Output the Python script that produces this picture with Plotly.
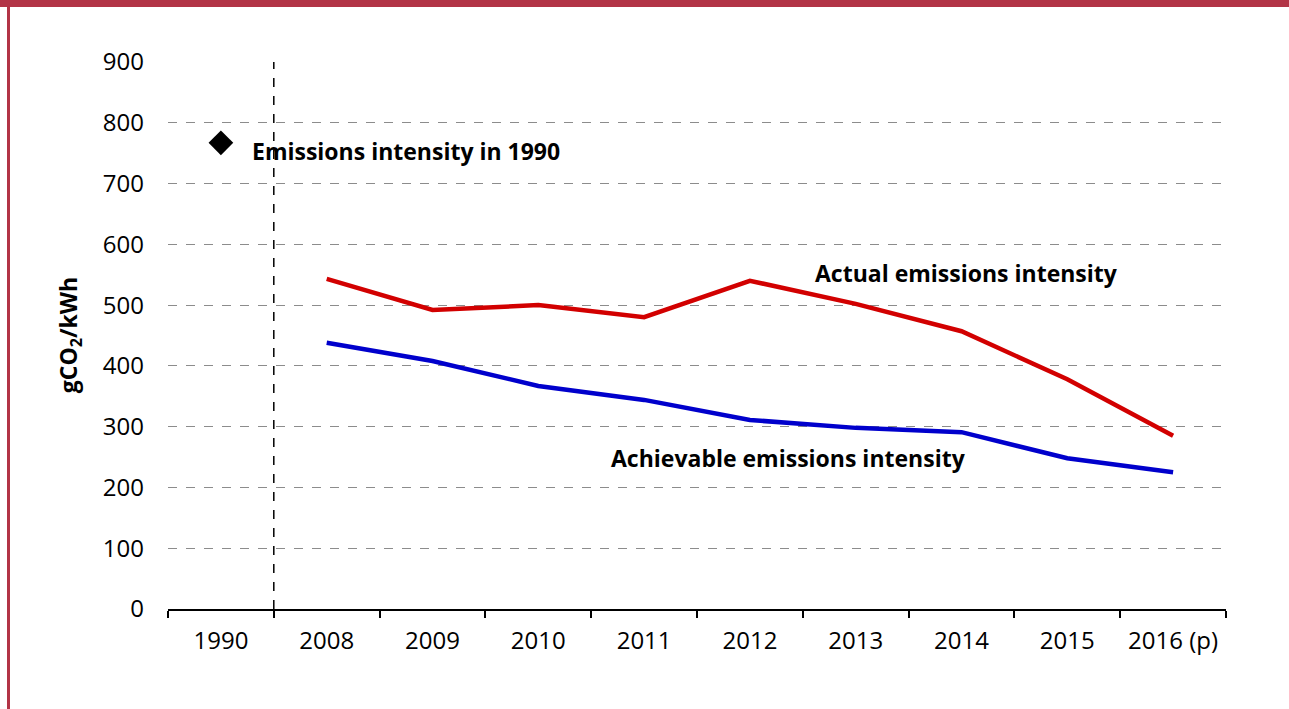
import plotly.graph_objects as go

# Categories and series values (gCO2/kWh)
years = ["1990", "2008", "2009", "2010", "2011", "2012", "2013", "2014", "2015", "2016 (p)"]
series_years = years[1:]
actual = [543, 492, 500, 480, 540, 502, 457, 378, 285]
achievable = [438, 408, 367, 344, 311, 298, 291, 248, 225]
baseline_1990 = [767]
y_ticks = [0, 100, 200, 300, 400, 500, 600, 700, 800, 900]

W, H = 1289, 709
L, R, T, B = 168, 63, 61, 100
Y_TOP = 901.6
PW = W - L - R
PH = H - T - B
FONT = "Open Sans, Noto Sans, sans-serif"
BORDER = "#B23446"


def px_x(px):
    return (px - L) / PW


def px_y(py):
    return (H - B - py) / PH


def cat(label):
    # category axes take numeric positions for annotations and shapes
    return years.index(label)


fig = go.Figure()

fig.add_trace(go.Scatter(
    x=series_years, y=actual, mode="lines",
    line=dict(color="#D20000", width=4.5), showlegend=False))
fig.add_trace(go.Scatter(
    x=series_years, y=achievable, mode="lines",
    line=dict(color="#0000CC", width=4.5), showlegend=False))
fig.add_trace(go.Scatter(
    x=years[:1], y=baseline_1990, mode="markers",
    marker=dict(symbol="diamond", size=19, color="black"), showlegend=False))

# Dashed separator between 1990 and the annual series
fig.add_shape(type="line", xref="x", yref="y", x0=0.5, x1=0.5, y0=0, y1=900,
              line=dict(color="black", width=1.5, dash="dash"))

# Frame: top band and left edge
fig.add_shape(type="rect", xref="paper", yref="paper",
              x0=px_x(0), x1=px_x(W), y0=px_y(7), y1=px_y(0),
              fillcolor=BORDER, line=dict(width=0), layer="above")
fig.add_shape(type="rect", xref="paper", yref="paper",
              x0=px_x(7), x1=px_x(10), y0=px_y(H), y1=px_y(0),
              fillcolor=BORDER, line=dict(width=0), layer="above")

fig.add_annotation(x=cat("1990"), y=baseline_1990[0], xref="x", yref="y",
                   text="<b>Emissions intensity in 1990</b>", showarrow=False,
                   xanchor="left", xshift=29, yshift=-8,
                   font=dict(family=FONT, size=23, color="black"))
fig.add_annotation(x=cat("2013"), y=553, xref="x", yref="y",
                   text="<b>Actual emissions intensity</b>", showarrow=False,
                   xanchor="center", xshift=111,
                   font=dict(family=FONT, size=23, color="black"))
fig.add_annotation(x=cat("2012"), y=249, xref="x", yref="y",
                   text="<b>Achievable emissions intensity</b>", showarrow=False,
                   xanchor="center", xshift=39,
                   font=dict(family=FONT, size=23, color="black"))

fig.update_layout(
    width=W, height=H,
    margin=dict(l=L, r=R, t=T, b=B),
    paper_bgcolor="white", plot_bgcolor="white",
    font=dict(family=FONT, size=24, color="black"),
    xaxis=dict(
        type="category", categoryorder="array", categoryarray=years,
        range=[-0.5, 9.5], tickson="boundaries",
        showline=True, linecolor="black", linewidth=1.5,
        ticks="outside", ticklen=7, tickcolor="black", tickwidth=1.5,
        showgrid=False, tickfont=dict(family=FONT, size=24),
        ticklabelstandoff=9, fixedrange=True,
    ),
    yaxis=dict(
        range=[0, Y_TOP], tickvals=y_ticks, ticks="", showline=False,
        showgrid=True, gridcolor="#8C8C8C", gridwidth=1, griddash="dash",
        zeroline=False, ticklabelstandoff=23,
        tickfont=dict(family=FONT, size=24),
        title=dict(text="<b>gCO<sub>2</sub>/kWh</b>", standoff=18,
                   font=dict(family=FONT, size=23)),
    ),
)

fig.write_html("out.html")
